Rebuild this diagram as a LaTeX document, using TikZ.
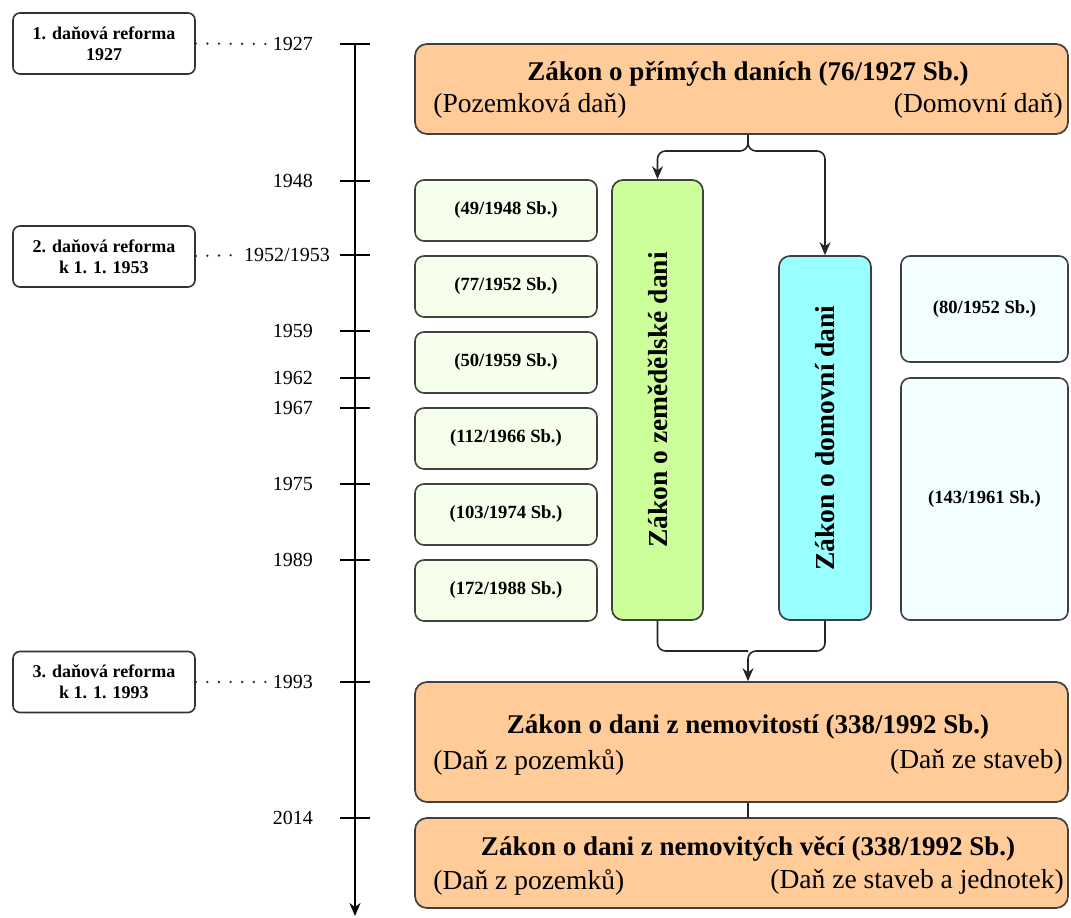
\documentclass[tikz,border=0pt]{standalone}
\usepackage{fontspec}
\setmainfont{Liberation Serif}
\usetikzlibrary{arrows.meta,positioning,calc}
\definecolor{lawor}{HTML}{FFCC99}
\definecolor{amendgr}{HTML}{F5FFEB}
\definecolor{zemgr}{HTML}{CCFF99}
\definecolor{domcy}{HTML}{99FFFF}
\definecolor{palecy}{HTML}{F2FEFF}

\begin{document}
\begin{tikzpicture}[x=1pt, y=-1pt,
  reform/.style={draw=black!80, line width=1.6pt, rounded corners=7pt, fill=white, minimum width=182pt, minimum height=61pt, align=center, inner sep=0pt, font=\fontsize{18}{21}\selectfont\bfseries},
  year/.style={inner sep=2pt, font=\fontsize{20}{22}\selectfont},
  tick/.style={line width=1.5pt},
  dots/.style={black!85, line width=2.6pt, line cap=round, dash pattern=on 0pt off 11.6pt},
  law/.style={draw=black!75, line width=1.7pt, rounded corners=12pt, fill=lawor, minimum width=653pt, inner sep=0pt},
  lawtitle/.style={inner sep=0pt, font=\fontsize{27}{30}\selectfont\bfseries},
  lawsub/.style={inner sep=0pt, font=\fontsize{27.5}{30}\selectfont},
  amend/.style={draw=black!75, line width=1.6pt, rounded corners=9pt, fill=amendgr, minimum width=182pt, minimum height=61pt, inner sep=0pt, font=\fontsize{18.6}{20}\selectfont\bfseries},
  column/.style={draw=black!75, line width=1.7pt, rounded corners=11pt, rotate=90, inner sep=0pt, font=\fontsize{27.5}{30}\selectfont\bfseries},
  conn/.style={black!85, line width=1.6pt, rounded corners=8pt},
  arr/.style={-{Stealth[length=13pt, width=11pt]}}
]
\useasboundingbox (0,0) rectangle (1071,918);

\draw[tick, arr] (355,44) coordinate (tstart) -- (355,916) coordinate (tend);
\foreach \yy/\yr in {44/1927, 181/1948, 331/1959, 378/1962, 408/1967, 484/1975, 560/1989, 682/1993, 818/2014} {
  \draw[tick] (340,\yy) -- (370,\yy);
  \node[year, anchor=east] (y\yr) at (315,\yy) {\yr};
}
\draw[tick] (340,255) -- (370,255);
\node[year, anchor=east] (y1952) at (332,255) {1952/1953};

\node[reform] (ref1) at (104,43.5) {1. daňová reforma\\1927};
\node[reform] (ref2) at (104,256.5) {2. daňová reforma\\k 1. 1. 1953};
\node[reform] (ref3) at (104,682) {3. daňová reforma\\k 1. 1. 1993};
\draw[dots] (ref1.east) -- (y1927.west);
\draw[dots] ([yshift=0.5pt]ref2.east) -- (y1952.west);
\draw[dots] (ref3.east) -- (y1993.west);

\node[law, minimum height=90pt] (prime) at (741.5,89) {};
\node[lawtitle] (primeT) at ($(prime.center)+(6.5,-15)$) {Zákon o přímých daních (76/1927 Sb.)};
\node[lawsub, anchor=west] (primeL) at ($(prime.west)+(19,17)$) {(Pozemková daň)};
\node[lawsub, anchor=east] (primeR) at ($(prime.east)+(-6,17)$) {(Domovní daň)};

\foreach \yy/\txt [count=\i] in {210.5/49\slash1948, 286.5/77\slash1952, 362.5/50\slash1959, 438.5/112\slash1966, 514.5/103\slash1974, 590.5/172\slash1988}
  \node[amend] (am\i) at (506,\yy) {(\txt\ Sb.)};

\node[column, fill=zemgr, minimum width=440pt, minimum height=91pt] (zem) at (657.5,400) {Zákon o zemědělské dani};
\node[column, fill=domcy, minimum width=364pt, minimum height=92pt] (dom) at (825,438) {Zákon o domovní dani};

\node[amend, fill=palecy, minimum width=167pt, minimum height=106pt] (dom1) at (984.5,309) {(80/1952 Sb.)};
\node[amend, fill=palecy, minimum width=167pt, minimum height=242pt] (dom2) at (984.5,499) {(143/1961 Sb.)};

\node[law, minimum height=120pt] (nemo) at (741.5,742) {};
\node[lawtitle] (nemoT) at ($(nemo.center)+(6.5,-15)$) {Zákon o dani z nemovitostí (338/1992 Sb.)};
\node[lawsub, anchor=west] (nemoL) at ($(nemo.west)+(19,20)$) {(Daň z pozemků)};
\node[lawsub, anchor=east] (nemoR) at ($(nemo.east)+(-6,20)$) {(Daň ze staveb)};

\node[law, minimum height=90pt] (veci) at (741.5,863) {};
\node[lawtitle] (veciT) at ($(veci.center)+(6.5,-14)$) {Zákon o dani z nemovitých věcí (338/1992 Sb.)};
\node[lawsub, anchor=west] (veciL) at ($(veci.west)+(19,19)$) {(Daň z pozemků)};
\node[lawsub, anchor=east] (veciR) at ($(veci.east)+(-5,19)$) {(Daň ze staveb a jednotek)};

\coordinate (split) at (748,151);
\coordinate (merge) at (748,651);
\draw[conn, arr] ($(prime.south)+(6.5,0)$) -- (split) -| (zem.east);
\draw[conn, arr] ($(prime.south)+(6.5,0)$) -- (split) -| (dom.east);
\draw[conn] (zem.west) |- (merge);
\draw[conn, arr] (dom.west) |- (merge) -- ($(nemo.north)+(6.5,0)$);
\draw[conn] ($(nemo.south)+(6.5,0)$) -- ($(veci.north)+(6.5,0)$);

\end{tikzpicture}
\end{document}
